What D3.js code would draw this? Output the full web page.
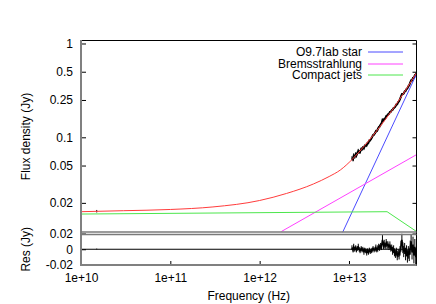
<!DOCTYPE html>
<html>
<head>
	<meta charset="utf-8">
	<title>SED fit with residuals</title>
	<script src="https://d3js.org/d3.v7.min.js"></script>
	<style>
		body { margin: 0; background: #fff; }
		svg { display: block; font-family: "Liberation Sans", Arial, sans-serif; font-size: 12px; }
		.axis text { fill: #000; font-size: 12px; font-family: "Liberation Sans", Arial, sans-serif; }
		.axis line { stroke: #000; }
		.axis .domain { display: none; }
	</style>
</head>
<body>
<div id="chart"></div>
<script>
var width  = 436;
var height = 304;

// spectrum (Hz in units of 1e13), flux and residuals in Jy
var specFreq13 = [1.08,1.11,1.13,1.16,1.19,1.21,1.24,1.27,1.30,1.33,
                  1.37,1.40,1.43,1.47,1.50,1.54,1.58,1.61,1.65,1.69,
                  1.73,1.78,1.82,1.86,1.91,1.96,2.00,2.05,2.10,2.15,
                  2.20,2.26,2.31,2.37,2.43,2.48,2.54,2.61,2.67,2.73,
                  2.80,2.87,2.94,3.01,3.08,3.16,3.23,3.31,3.39,3.47,
                  3.56,3.64,3.73,3.82,3.91,4.01,4.10,4.20,4.30,4.41,
                  4.51,4.62,4.73,4.85,4.96,5.08,5.21,5.33,5.46,5.59,5.70];
var specFlux = [0.0598,0.0584,0.0635,0.0622,0.0658,0.0639,0.0676,0.0713,0.0699,0.0696,
                0.0750,0.0748,0.0776,0.0770,0.0808,0.0822,0.0826,0.0865,0.0870,0.0925,
                0.0932,0.0973,0.1010,0.1055,0.1070,0.1113,0.1161,0.1165,0.1220,0.1275,
                0.1302,0.1366,0.1393,0.1528,0.1504,0.1562,0.1578,0.1674,0.1692,0.1749,
                0.1777,0.1855,0.1873,0.1944,0.1963,0.2053,0.2077,0.2130,0.2232,0.2257,
                0.2373,0.2430,0.2568,0.2719,0.2887,0.2889,0.2935,0.3081,0.3116,0.3277,
                0.3320,0.3494,0.3592,0.3822,0.4031,0.4038,0.4298,0.4310,0.4582,0.4622,0.4877];
var specRes = [0.002,-0.001,0.003,0.000,0.002,-0.001,0.001,0.003,0.000,-0.002,
               0.001,-0.001,0.000,-0.003,-0.001,-0.002,-0.004,-0.002,-0.004,-0.001,
               -0.003,-0.002,-0.001,0.001,-0.001,0.000,0.002,-0.001,0.001,0.003,
               0.002,0.004,0.003,0.012,0.005,0.007,0.004,0.008,0.005,0.006,
               0.003,0.005,0.001,0.002,-0.002,0.000,-0.004,-0.006,-0.003,-0.008,
               -0.005,-0.007,-0.002,0.004,0.012,0.002,-0.003,0.001,-0.006,-0.002,
               -0.009,-0.004,-0.007,0.002,0.010,-0.004,0.006,-0.008,0.003,-0.010,0.001];
var specErr = [0.003,0.003,0.004,0.003,0.003,0.003,0.003,0.004,0.003,0.003,
               0.003,0.003,0.003,0.004,0.003,0.003,0.004,0.003,0.003,0.003,
               0.003,0.003,0.003,0.003,0.003,0.003,0.004,0.003,0.004,0.004,
               0.004,0.004,0.004,0.006,0.005,0.005,0.004,0.005,0.005,0.004,
               0.004,0.005,0.004,0.004,0.005,0.005,0.005,0.005,0.005,0.006,
               0.005,0.006,0.006,0.007,0.008,0.007,0.007,0.007,0.008,0.007,
               0.008,0.008,0.008,0.009,0.009,0.009,0.010,0.010,0.010,0.011,0.011];

// radio point
var radioFreq = [1.5e10];
var radioFlux = [0.0163];
var radioErr  = [0.0005];
var radioRes  = [0.0003];

// total model and its components
var modelFreq = [1e10,3e10,1e11,3e11,1e12,2e12,4e12,6e12,8e12,1.08e13,1.5e13,2e13,2.5e13,3e13,4e13,5e13,5.7e13];
var modelFlux = [0.0161,0.0165,0.0170,0.0181,0.0212,0.0252,0.0318,0.0382,0.0448,0.0578,0.0818,0.1141,0.1506,0.1913,0.2859,0.3978,0.4869];
var starFreq  = [8.4e12, 5.7e13];
var starFlux  = [0.0095, 0.4715];
var bremsFreq = [1.75e12, 5.7e13];
var bremsFlux = [0.0099, 0.0653];
var jetsFreq  = [1e10, 2.67e13, 5.7e13];
var jetsFlux  = [0.0152, 0.0161, 0.0099];

var legendNames  = ["O9.7Iab star", "Bremsstrahlung", "Compact jets"];
var legendColors = ["#4b4bff", "#ff40ff", "#4ce64c"];

var xTicks      = [1e10, 1e11, 1e12, 1e13];
var xTickLabels = ["1e+10", "1e+11", "1e+12", "1e+13"];
var yTicks      = [1, 0.5, 0.25, 0.1, 0.05, 0.02];
var yTickLabels = ["1", "0.5", "0.25", "0.1", "0.05", "0.02"];
var rTicks      = [0.02, 0, -0.02];
var rTickLabels = ["0.02", "0", "-0.02"];

var L = 81, R = 416.5;
var mainTop = 40.7, mainBot = 232.3;
var resTop = 233.5, resBot = 265;

var x  = d3.scaleLog().domain([1e10, 5.7e13]).range([L, R]);
var y  = d3.scaleLog().domain([0.00971, 1.071]).range([mainBot, mainTop]);
var yr = d3.scaleLinear().domain([-0.02, 0.02]).range([resBot, resTop]);

var svg = d3.select("#chart").append("svg")
	.attr("width", width)
	.attr("height", height);

svg.append("rect").attr("width", width).attr("height", height).attr("fill", "#fff");

var defs = svg.append("defs");
defs.append("clipPath").attr("id", "clipMain").append("rect")
	.attr("x", L).attr("y", mainTop).attr("width", R - L).attr("height", mainBot - mainTop);
defs.append("clipPath").attr("id", "clipRes").append("rect")
	.attr("x", L).attr("y", resTop).attr("width", R - L).attr("height", resBot - resTop);

var spec = specFreq13.map(function(f, i) {
	return { f: f * 1e13, v: specFlux[i], r: specRes[i], e: specErr[i] };
});
var radio = radioFreq.map(function(f, i) {
	return { f: f, v: radioFlux[i], r: radioRes[i], e: radioErr[i] };
});

function pairs(fs, vs) {
	return fs.map(function(f, i) { return [f, vs[i]]; });
}

var line = d3.line().x(function(d) { return x(d[0]); }).y(function(d) { return y(d[1]); });

// --- main panel ---
var gMain = svg.append("g").attr("clip-path", "url(#clipMain)");

var pts = spec.concat(radio);
gMain.selectAll(".ebar").data(pts).enter().append("line")
	.attr("x1", function(d) { return x(d.f); })
	.attr("x2", function(d) { return x(d.f); })
	.attr("y1", function(d) { return y(d.v - d.e); })
	.attr("y2", function(d) { return y(d.v + d.e); })
	.attr("stroke", "#000").attr("stroke-width", 1);

gMain.append("path")
	.datum(spec.map(function(d) { return [d.f, d.v]; }))
	.attr("d", line)
	.attr("fill", "none").attr("stroke", "#000").attr("stroke-width", 2);

gMain.append("path").datum(pairs(starFreq, starFlux)).attr("d", line)
	.attr("fill", "none").attr("stroke", legendColors[0]).attr("stroke-width", 1);
gMain.append("path").datum(pairs(bremsFreq, bremsFlux)).attr("d", line)
	.attr("fill", "none").attr("stroke", legendColors[1]).attr("stroke-width", 1);
gMain.append("path").datum(pairs(jetsFreq, jetsFlux)).attr("d", line)
	.attr("fill", "none").attr("stroke", legendColors[2]).attr("stroke-width", 1);

gMain.append("path").datum(pairs(modelFreq, modelFlux))
	.attr("d", line.curve(d3.curveMonotoneX))
	.attr("fill", "none").attr("stroke", "#ff3c3c").attr("stroke-width", 1);

// --- residual panel ---
var gRes = svg.append("g").attr("clip-path", "url(#clipRes)");

gRes.append("line")
	.attr("x1", L).attr("x2", R).attr("y1", yr(0)).attr("y2", yr(0))
	.attr("stroke", "#000").attr("stroke-width", 1);

gRes.selectAll(".rbar").data(pts).enter().append("line")
	.attr("x1", function(d) { return x(d.f); })
	.attr("x2", function(d) { return x(d.f); })
	.attr("y1", function(d) { return yr(d.r - d.e); })
	.attr("y2", function(d) { return yr(d.r + d.e); })
	.attr("stroke", "#000").attr("stroke-width", 1);

gRes.append("path")
	.datum(spec)
	.attr("d", d3.line().x(function(d) { return x(d.f); }).y(function(d) { return yr(d.r); }))
	.attr("fill", "none").attr("stroke", "#000").attr("stroke-width", 1.5);

// --- axes ---
svg.append("g").attr("class", "axis")
	.attr("transform", "translate(" + L + ",0)")
	.call(d3.axisLeft(y).tickValues(yTicks).tickSize(-5).tickPadding(8)
		.tickFormat(function(d, i) { return yTickLabels[i]; }));
svg.append("g").attr("class", "axis")
	.attr("transform", "translate(" + R + ",0)")
	.call(d3.axisRight(y).tickValues(yTicks).tickSize(-4).tickFormat(""));

svg.append("g").attr("class", "axis")
	.attr("transform", "translate(" + L + ",0)")
	.call(d3.axisLeft(yr).tickValues(rTicks).tickSize(-5).tickPadding(8)
		.tickFormat(function(d, i) { return rTickLabels[i]; }));
svg.append("g").attr("class", "axis")
	.attr("transform", "translate(" + R + ",0)")
	.call(d3.axisRight(yr).tickValues(rTicks).tickSize(-4).tickFormat(""));

svg.append("g").attr("class", "axis")
	.attr("transform", "translate(0," + resBot + ")")
	.call(d3.axisBottom(x).tickValues(xTicks).tickSize(-4).tickPadding(8)
		.tickFormat(function(d, i) { return xTickLabels[i]; }));

// borders
function border(x1, y1, x2, y2, col, w) {
	svg.append("line").attr("x1", x1).attr("y1", y1).attr("x2", x2).attr("y2", y2)
		.attr("stroke", col).attr("stroke-width", w);
}
border(L, 40.5, R, 40.5, "#000", 1);
border(R, 40.5, R, 265.5, "#000", 1);
border(L, 40, L, 266, "#808080", 2);
border(L, 232, R, 232, "#7a7a7a", 1.5);
border(L, 234.5, R, 234.5, "#7a7a7a", 1.5);
border(L, 265, R, 265, "#808080", 2);

// legend, sample lines sit on a pixel edge so they come out soft like the original
var leg = svg.append("g");
legendNames.forEach(function(name, i) {
	var ly = 52 + i * 11.5;
	leg.append("text")
		.attr("x", 362).attr("y", ly + 4)
		.attr("text-anchor", "end")
		.text(name);
	leg.append("line")
		.attr("x1", 368).attr("x2", 403).attr("y1", Math.round(ly)).attr("y2", Math.round(ly))
		.attr("stroke", legendColors[i]).attr("stroke-width", 1);
});

// axis titles
svg.append("text")
	.attr("transform", "translate(30," + (mainTop + mainBot) / 2 + ") rotate(-90)")
	.attr("text-anchor", "middle")
	.text("Flux density (Jy)");
svg.append("text")
	.attr("transform", "translate(30," + (resTop + resBot) / 2 + ") rotate(-90)")
	.attr("text-anchor", "middle")
	.text("Res (Jy)");
svg.append("text")
	.attr("x", (L + R) / 2).attr("y", 300)
	.attr("text-anchor", "middle")
	.text("Frequency (Hz)");
</script>
</body>
</html>
